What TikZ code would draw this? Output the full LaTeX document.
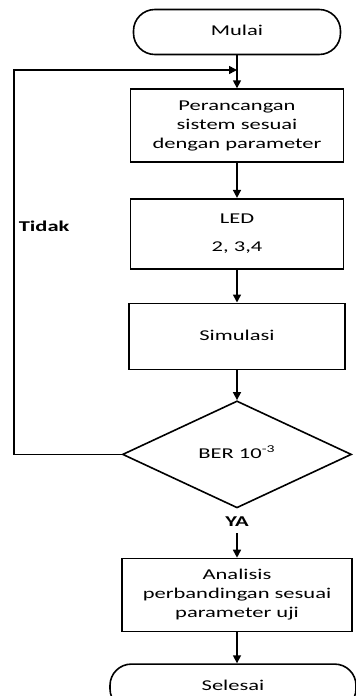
\documentclass[tikz,border=0pt]{standalone}
\usepackage{fontspec}
\setmainfont{Carlito}
\usepackage{graphicx}
\usetikzlibrary{shapes.geometric, arrows.meta, positioning}

% wide text, as in the reference
\newcommand{\wide}[1]{\scalebox{1.5}[1]{\begin{tabular}{@{}c@{}}#1\end{tabular}}}

\begin{document}
\begin{tikzpicture}[
    x=0.75pt, y=-0.75pt,
    node distance=24.75pt,
    line width=1.2pt,
    font=\fontsize{11.25pt}{14.25pt}\selectfont,
    block/.style={rectangle, draw, minimum width=159.75pt, text centered, inner sep=0pt},
    term/.style={rectangle, draw, rounded corners=16pt, minimum width=155.25pt, minimum height=33.75pt, inner sep=0pt},
    decision/.style={diamond, draw, minimum width=171.75pt, minimum height=80.25pt, inner sep=0pt},
    arrow/.style={-{Triangle[length=6pt, width=6pt]}},
    note/.style={font=\bfseries\fontsize{11.25pt}{14.25pt}\selectfont, inner sep=0pt}
]
\useasboundingbox (0,0) rectangle (356,696);

% Start
\node[term] (start) at (237,32) {\wide{Mulai}};

% Design
\node[block, minimum height=54.75pt, below=of start] (design) {\wide{Perancangan\\sistem sesuai\\dengan parameter}};

% LED
\node[block, minimum height=52.5pt, below=26.25pt of design] (led) {\wide{LED\\[7pt]2, 3,4}};

% Simulation
\node[block, minimum width=162pt, minimum height=49.5pt, below=of led] (sim) {\wide{Simulasi}};

% Decision
\node[decision, below=22.5pt of sim] (ber) {\wide{BER 10\textsuperscript{-3}}};
\node[note, below=3pt of ber] (ya) {\wide{YA}};
\node[note, anchor=west] (tidak) at (18,228) {\wide{Tidak}};

% Analysis
\node[block, minimum width=172.5pt, minimum height=54.75pt, below=36.75pt of ber] (analysis) {\wide{Analisis\\perbandingan sesuai\\parameter uji}};

% End
\node[term, minimum width=184.5pt, minimum height=34.5pt, below=23.25pt of analysis, xshift=-3pt] (finish) {\wide{Selesai}};

% Arrows
\draw[arrow] (start) -- (design);
\draw[arrow] (design) -- (led);
\draw[arrow] (led) -- (sim);
\draw[arrow] (sim) -- (ber);
\draw[arrow] (ya) -- (analysis);
\draw[arrow] (analysis.south) -- (analysis.south |- finish.north);

% Loop back
\coordinate (corner) at (14,70);
\draw[arrow] (ber.west) -| (corner) -- (corner -| start.south);

\end{tikzpicture}
\end{document}
